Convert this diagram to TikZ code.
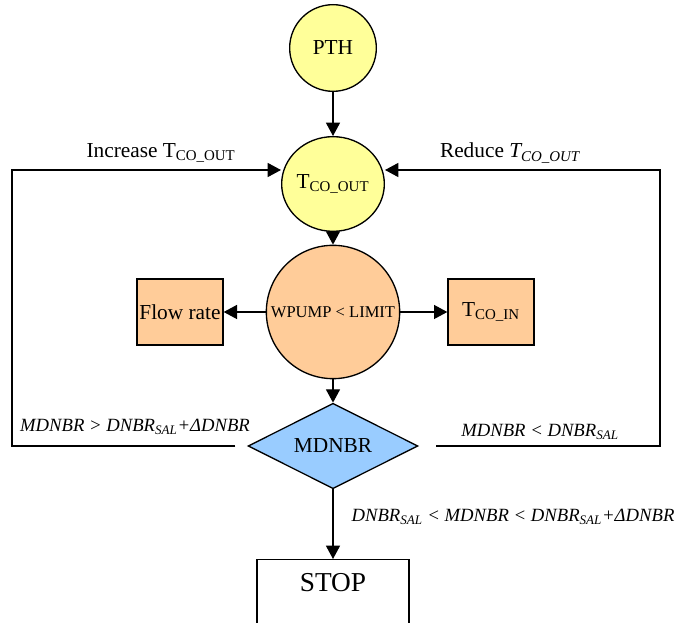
\documentclass[tikz,border=0pt]{standalone}
\usepackage{fontspec}
\setmainfont{Liberation Serif}
\usetikzlibrary{shapes.geometric,arrows.meta}
\definecolor{pthyellow}{RGB}{255,255,153}
\definecolor{pumporange}{RGB}{255,204,153}
\definecolor{dnbrblue}{RGB}{153,204,255}
\newcommand{\tsub}[1]{\textsubscript{#1}}
\newcommand{\mainfont}[0] {\fontsize{16}{18}\selectfont}
\tikzset{
  stage/.style={draw=black,line width=1pt,inner sep=0pt,font=\mainfont},
  param/.style={stage,shape=rectangle,fill=pumporange,minimum width=64.5pt,minimum height=49.5pt},
  cond/.style={font=\fontsize{14}{16}\selectfont\itshape},
  flow/.style={-{Triangle[length=10pt,width=10.5pt]},line width=1pt},
}

\begin{document}
\begin{tikzpicture}[x=0.75pt,y=-0.75pt]
        \useasboundingbox (0,0) rectangle (683,623);
        \clip (0,0) rectangle (683,623);
        \node[stage,shape=circle,fill=pthyellow,minimum size=65pt] (pth) at (333,48) {PTH};
        \node[stage,shape=ellipse,fill=pthyellow,minimum width=67.5pt,minimum height=71pt] (tout) at (333,184) {T\tsub{CO\_OUT}};
        \node[stage,shape=circle,fill=pumporange,minimum size=100pt,font=\fontsize{12.4}{14}\selectfont] (pump) at (333,312) {WPUMP < LIMIT};
        \node[param] (rate) at (180,312) {Flow rate};
        \node[param] (tin) at (491,312) {T\tsub{CO\_IN}};
        \node[stage,shape=diamond,aspect=2,fill=dnbrblue,minimum width=127.5pt,minimum height=64pt] (mdnbr) at (333,446) {MDNBR};
        \node[stage,shape=rectangle,anchor=north,minimum width=114pt,inner ysep=10pt,text height=14pt,text depth=60pt,font=\fontsize{20.5}{22}\selectfont] (stop) at (333,559) {STOP};
        %labels
        \node (incr) at (161,153) {\mainfont Increase T\tsub{CO\_OUT}};
        \node (red) at (510,153) {\mainfont Reduce \textit{T\tsub{CO\_OUT}}};
        \node[cond] (high) at (135,427) {MDNBR > DNBR\tsub{SAL}+ΔDNBR};
        \node[cond] (low) at (540,432) {MDNBR < DNBR\tsub{SAL}};
        \node[cond] (ok) at (513,517) {DNBR\tsub{SAL} < MDNBR < DNBR\tsub{SAL}+ΔDNBR};
        %corners of the feedback loops
        \coordinate (lcorner) at (12,170);
        \coordinate (rcorner) at (660,170);
        %main flow
        \path[flow] (pth) edge (tout);
        \path[flow] (tout) edge (pump);
        \path[flow] (pump) edge (rate);
        \path[flow] (pump) edge (tin);
        \path[flow] (pump) edge (mdnbr);
        \path[flow] (mdnbr) edge (stop);
        %feedback loops
        \draw[flow] ([xshift=-9pt]mdnbr.west) -| (lcorner) -- (lcorner -| tout.west);
        \draw[flow] ([xshift=13pt]mdnbr.east) -| (rcorner) -- (rcorner -| tout.east);
\end{tikzpicture}
\end{document}
